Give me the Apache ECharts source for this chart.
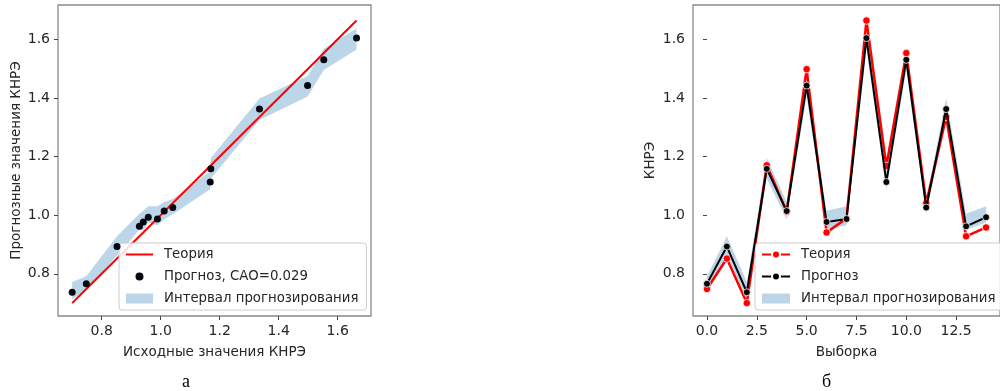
<!DOCTYPE html>
<html>
<head>
<meta charset="utf-8">
<script src="https://cdn.jsdelivr.net/npm/echarts@6/dist/echarts.min.js"></script>
<style>
html,body{margin:0;padding:0;background:#fff;}
#c{width:1000px;height:391px;}
</style>
</head>
<body>
<div id="c"></div>
<script>
// ---- data ----
const samples  = [0, 1, 2, 3, 4, 5, 6, 7, 8, 9, 10, 11, 12, 13, 14];
const theory   = [0.748, 0.852, 0.700, 1.170, 1.012, 1.498, 0.941, 0.989, 1.664, 1.168, 1.553, 1.041, 1.335, 0.928, 0.958];
const prognoz  = [0.766, 0.893, 0.737, 1.158, 1.014, 1.442, 0.977, 0.987, 1.604, 1.113, 1.530, 1.026, 1.362, 0.962, 0.993];
const bandLow  = [0.745, 0.862, 0.712, 1.125, 0.985, 1.405, 0.948, 0.966, 1.565, 1.088, 1.495, 1.003, 1.325, 0.950, 0.975];
const bandHigh = [0.792, 0.928, 0.772, 1.195, 1.045, 1.475, 1.015, 1.030, 1.637, 1.150, 1.568, 1.055, 1.398, 1.005, 1.030];
const xTicksA  = [0.8, 1.0, 1.2, 1.4, 1.6];
const yTicks   = [0.8, 1.0, 1.2, 1.4, 1.6];
const xTicksB  = [0, 2.5, 5, 7.5, 10, 12.5];
const caoText  = 'Прогноз, САО=0.029';

// ---- derived ----
const order = samples.slice().sort((a, b) => theory[a] - theory[b]);
const leftLine = order.map(i => [theory[i], theory[i]]);
const leftPts = samples.map(i => [theory[i], prognoz[i]]);
const leftBand = order.map(i => [theory[i], bandLow[i], bandHigh[i]]);
const rightBand = samples.map(i => [i, bandLow[i], bandHigh[i]]);

const FONT = 'DejaVu Sans';
const TXT = '#262626';
const BAND = 'rgba(31,119,180,0.3)';

function bandRender(rows) {
  return function (params, api) {
    if (params.dataIndex !== 0) return null;
    const upper = rows.map(r => api.coord([r[0], r[2]]));
    const lower = rows.slice().reverse().map(r => api.coord([r[0], r[1]]));
    return {
      type: 'polygon',
      shape: { points: upper.concat(lower) },
      style: { fill: BAND },
      silent: true
    };
  };
}

function valAxis(gi, min, max, ticks, name, gap) {
  return {
    type: 'value', gridIndex: gi, min: min, max: max,
    name: name, nameLocation: 'middle', nameGap: gap,
    nameTextStyle: { fontFamily: FONT, fontSize: 13.5, color: TXT },
    axisLine: { show: false },
    splitLine: { show: false },
    axisTick: { show: true, length: 4, lineStyle: { color: '#444', width: 1 }, customValues: ticks },
    axisLabel: { fontFamily: FONT, fontSize: 14, color: TXT, margin: 8, customValues: ticks,
                 formatter: v => Number(v).toFixed(1) }
  };
}

const legendBase = {
  orient: 'vertical', top: 243,
  backgroundColor: 'rgba(255,255,255,0.85)', borderColor: '#cccccc', borderWidth: 1, borderRadius: 3,
  padding: [5, 8, 5, 6], itemHeight: 10, itemGap: 9,
  textStyle: { fontFamily: FONT, fontSize: 13.3, color: TXT, padding: [0, 0, 0, 6] }
};

const chart = echarts.init(document.getElementById('c'), null, { renderer: 'canvas' });
chart.setOption({
  animation: false,
  backgroundColor: '#fff',
  grid: [
    { left: 58, top: 5, width: 313, height: 311, show: true, borderColor: '#8a8a8a', borderWidth: 1.3, backgroundColor: 'transparent' },
    { left: 693, top: 5, width: 316, height: 311, show: true, borderColor: '#8a8a8a', borderWidth: 1.3, backgroundColor: 'transparent' }
  ],
  xAxis: [
    valAxis(0, 0.652, 1.713, xTicksA, 'Исходные значения КНРЭ', 29),
    valAxis(1, -0.7, 14.7, xTicksB, 'Выборка', 29)
  ],
  yAxis: [
    valAxis(0, 0.656, 1.717, yTicks, 'Прогнозные значения КНРЭ', 33),
    valAxis(1, 0.656, 1.717, yTicks, 'КНРЭ', 36)
  ],
  legend: [
    Object.assign({}, legendBase, {
      left: 119, itemWidth: 27,
      data: [
        { name: 'Теория', itemStyle: { opacity: 0 } },
        { name: caoText, icon: 'circle', itemStyle: { borderColor: '#fff', borderWidth: 2 } },
        { name: 'Интервал прогнозирования', icon: 'rect' }
      ]
    }),
    Object.assign({}, legendBase, {
      left: 755, itemWidth: 28,
      data: [
        { name: 'Теория ' },
        { name: 'Прогноз' },
        { name: 'Интервал прогнозирования ', icon: 'rect' }
      ]
    })
  ],
  series: [
    // left chart
    { type: 'custom', name: 'Интервал прогнозирования', xAxisIndex: 0, yAxisIndex: 0,
      renderItem: bandRender(leftBand), data: leftBand, itemStyle: { color: BAND }, z: 1, clip: true },
    { type: 'line', name: 'Теория', xAxisIndex: 0, yAxisIndex: 0, data: leftLine,
      symbol: 'none', lineStyle: { color: '#ff0000', width: 2 }, itemStyle: { color: '#ff0000' }, z: 3 },
    { type: 'scatter', name: caoText, xAxisIndex: 0, yAxisIndex: 0, data: leftPts,
      symbolSize: 7, itemStyle: { color: '#050510', opacity: 1 }, z: 4 },
    // right chart
    { type: 'custom', name: 'Интервал прогнозирования ', xAxisIndex: 1, yAxisIndex: 1,
      renderItem: bandRender(rightBand), data: rightBand, itemStyle: { color: BAND }, z: 1, clip: true },
    { type: 'line', name: 'Теория ', xAxisIndex: 1, yAxisIndex: 1, data: samples.map(i => [i, theory[i]]),
      symbol: 'circle', symbolSize: 7.5, showAllSymbol: true,
      lineStyle: { color: '#ff0000', width: 2.5 }, itemStyle: { color: '#ff0000', borderColor: '#fff', borderWidth: 0.8 }, z: 3 },
    { type: 'line', name: 'Прогноз', xAxisIndex: 1, yAxisIndex: 1, data: samples.map(i => [i, prognoz[i]]),
      symbol: 'circle', symbolSize: 7, showAllSymbol: true,
      lineStyle: { color: '#000000', width: 2 }, itemStyle: { color: '#000000', borderColor: '#fff', borderWidth: 0.8 }, z: 4 }
  ],
  graphic: [
    { type: 'text', left: 182, top: 373, style: { text: 'а', font: '18px "Liberation Serif"', fill: '#000' } },
    { type: 'text', left: 822, top: 373, style: { text: 'б', font: '18px "Liberation Serif"', fill: '#000' } }
  ]
});
</script>
</body>
</html>
